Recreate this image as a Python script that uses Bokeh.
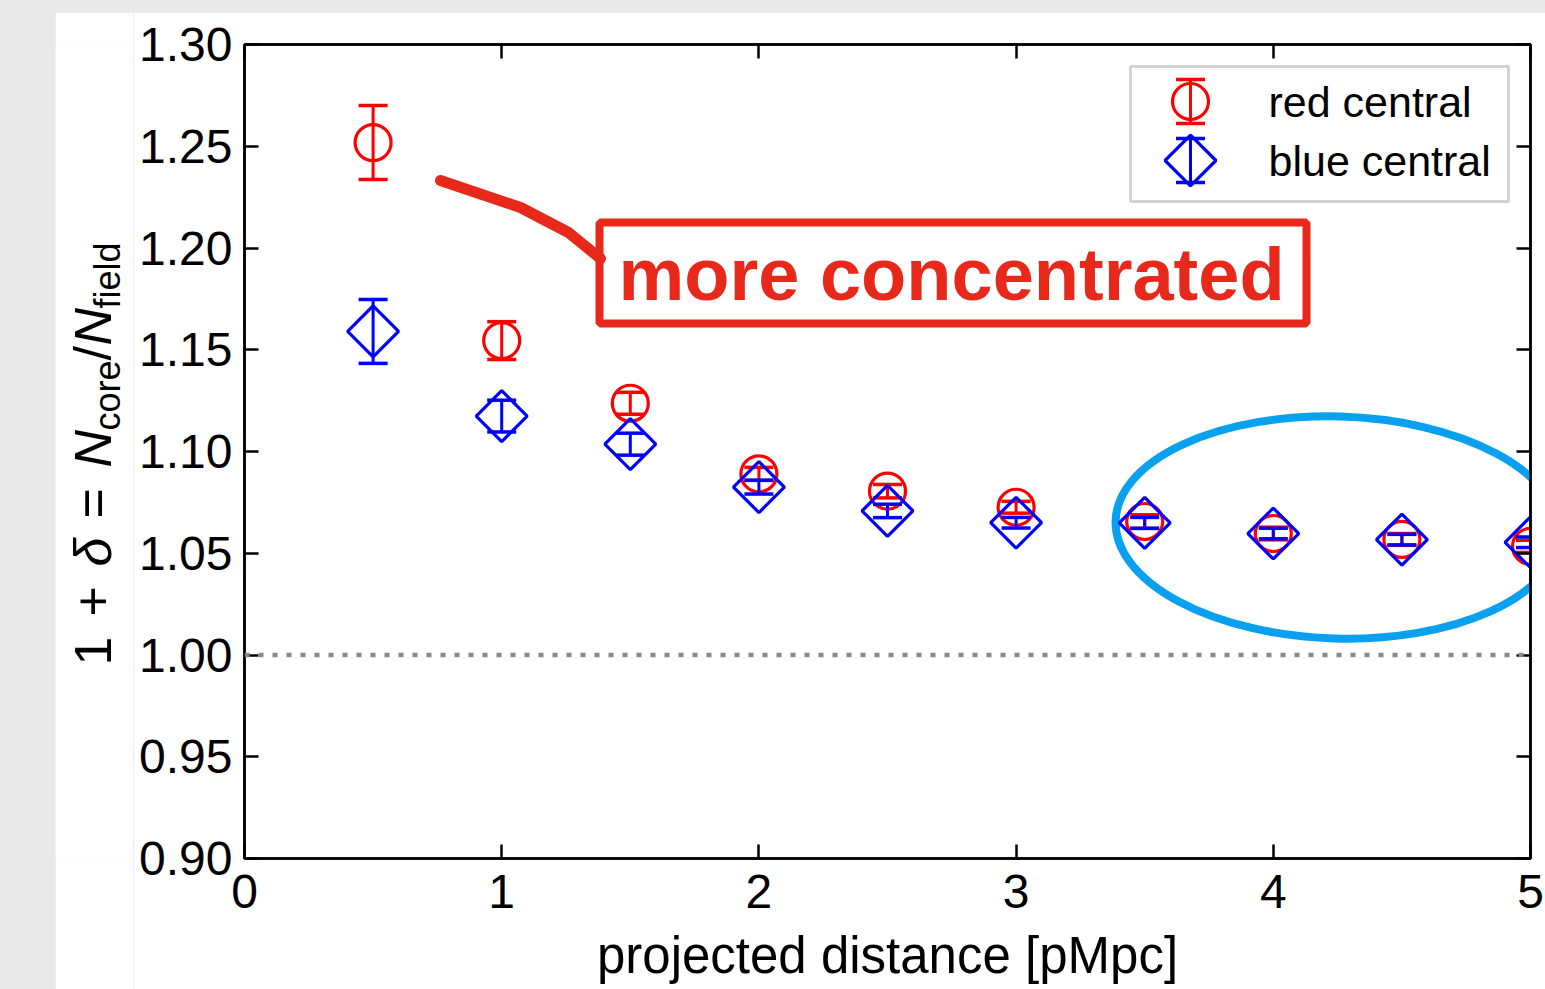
import numpy as np
from bokeh.plotting import figure
from bokeh.models import (FixedTicker, PrintfTickFormatter, LinearAxis, Span,
                          Label, BoxAnnotation, ColumnDataSource)
from bokeh.layouts import row
from bokeh.core.properties import value
from bokeh.embed import file_html
from bokeh.resources import INLINE

# ---------------- data ----------------
distance = [0.5, 1.0, 1.5, 2.0, 2.5, 3.0, 3.5, 4.0, 4.5, 5.0]
red_ratio = [1.2518, 1.1545, 1.1237, 1.0890, 1.0805, 1.0726, 1.0656, 1.0597, 1.0568, 1.0534]
red_err = [0.0182, 0.0093, 0.0054, 0.0032, 0.0033, 0.0029, 0.0033, 0.0031, 0.0029, 0.0030]
blue_ratio = [1.1590, 1.1174, 1.1036, 1.0825, 1.0708, 1.0650, 1.0649, 1.0597, 1.0567, 1.0554]
blue_err = [0.0157, 0.0078, 0.0054, 0.0034, 0.0033, 0.0026, 0.0027, 0.0026, 0.0026, 0.0026]
x_ticks = [0, 1, 2, 3, 4, 5]
y_ticks = [0.90, 0.95, 1.00, 1.05, 1.10, 1.15, 1.20, 1.25, 1.30]
series_labels = ["red central", "blue central"]
x_label = "projected distance [pMpc]"
note_text = "more concentrated"

RED = "#ff0000"
BLUE = "#0000ff"
NOTE_RED = "#e8281a"
SKY = "#0aa0f0"
FONT = "Liberation Sans"
PAGE_BG = "#e9e9e9"

# page geometry (pixels)
PAGE_W, PAGE_H = 1545, 989
WHITE_L, WHITE_T = 55, 12
LAB_W = 78                      # strip holding the y label
FL, FR, FT, FB = 244, 1530, 44, 858
X0, X1, Y0, Y1 = 0.0, 5.0, 0.90, 1.30


def px2x(px):
    return X0 + (px - FL) / (FR - FL) * (X1 - X0)


def px2y(py):
    return Y1 - (py - FT) / (FB - FT) * (Y1 - Y0)


# ---------------- main figure ----------------
main_left = WHITE_L + LAB_W
p = figure(width=PAGE_W - main_left, height=PAGE_H - WHITE_T, x_range=(X0, X1), y_range=(Y0, Y1),
           output_backend="svg", toolbar_location=None,
           min_border_left=FL - main_left, min_border_right=PAGE_W - FR,
           min_border_top=FT - WHITE_T, min_border_bottom=PAGE_H - FB)
p.margin = (WHITE_T, 0, 0, 0)
p.background_fill_color = "white"
p.border_fill_color = "white"
p.grid.visible = False
p.outline_line_color = "black"
p.outline_line_width = 2.5

p.xaxis.ticker = FixedTicker(ticks=x_ticks)
p.yaxis.ticker = FixedTicker(ticks=y_ticks)
p.yaxis.formatter = PrintfTickFormatter(format="%.2f")

for ax in (p.xaxis[0], p.yaxis[0]):
    ax.major_tick_in = 14
    ax.major_tick_out = 0
    ax.minor_tick_in = 0
    ax.minor_tick_out = 0
    ax.axis_line_width = 2.5
    ax.major_tick_line_width = 2.5
    ax.major_label_text_font = FONT
    ax.major_label_text_font_size = "48px"
    ax.major_label_text_color = "black"

p.xaxis.major_label_standoff = 16
p.yaxis.major_label_standoff = 12
p.xaxis.axis_label = x_label
p.xaxis.axis_label_text_font = FONT
p.xaxis.axis_label_text_font_size = "51px"
p.xaxis.axis_label_text_font_style = "normal"
p.xaxis.axis_label_text_color = "black"
p.xaxis.axis_label_standoff = 16

for loc, ticks in (("above", x_ticks), ("right", y_ticks)):
    ax = LinearAxis(ticker=FixedTicker(ticks=ticks), major_label_text_font_size="1px",
                    major_label_text_color=None,
                    major_tick_in=14, major_tick_out=0, minor_tick_in=0, minor_tick_out=0,
                    axis_line_width=2.5, major_tick_line_width=2.5, major_label_standoff=0)
    p.add_layout(ax, loc)

# reference line at 1
p.add_layout(Span(location=1.0, dimension="width", line_color="#888888",
                  line_width=4.5, line_dash="5 9"))

# blue hand-drawn ellipse (annotation)
p.ellipse(x=[px2x(1337)], y=[px2y(527)], width=444, height=222, width_units="screen",
          height_units="screen", angle=-0.03, fill_color=None, line_color=SKY, line_width=8)

# red note: pointer, box, text
ptr_px = [(440, 180), (520, 207), (568, 232), (600, 258)]
p.line([px2x(a) for a, b in ptr_px], [px2y(b) for a, b in ptr_px],
       line_color=NOTE_RED, line_width=11, line_cap="round", line_join="round")
p.add_layout(BoxAnnotation(left=px2x(599), right=px2x(1306), top=px2y(222), bottom=px2y(323),
                           fill_alpha=0, line_color=NOTE_RED, line_alpha=1, line_width=8))
p.add_layout(Label(x=px2x(951), y=px2y(274), text=note_text, text_align="center",
                   text_baseline="middle", text_font=FONT, text_font_size="74px",
                   text_font_style="bold", text_color=NOTE_RED))

# ---------------- data marks ----------------
src_r = ColumnDataSource(dict(x=distance, y=red_ratio,
                              lo=[v - e for v, e in zip(red_ratio, red_err)],
                              hi=[v + e for v, e in zip(red_ratio, red_err)]))
src_b = ColumnDataSource(dict(x=distance, y=blue_ratio,
                              lo=[v - e for v, e in zip(blue_ratio, blue_err)],
                              hi=[v + e for v, e in zip(blue_ratio, blue_err)]))


def errorbars(src, color):
    p.segment(x0="x", y0="lo", x1="x", y1="hi", source=src, line_color=color, line_width=3)
    p.scatter(x="x", y="lo", source=src, marker="dash", size=29, line_color=color, line_width=3.5)
    p.scatter(x="x", y="hi", source=src, marker="dash", size=29, line_color=color, line_width=3.5)


errorbars(src_r, RED)
p.scatter(x="x", y="y", source=src_r, marker="circle", size=36,
          fill_color=None, line_color=RED, line_width=3.2)
errorbars(src_b, BLUE)
p.scatter(x="x", y="y", source=src_b, marker="square", angle=np.pi / 4, size=36,
          fill_color=None, line_color=BLUE, line_width=3.2)

# ---------------- legend (drawn by hand to show error-bar symbols) ----------------
p.add_layout(BoxAnnotation(left=px2x(1130), right=px2x(1508), top=px2y(66), bottom=px2y(201),
                           fill_alpha=0, line_color="#d2d2d2", line_alpha=1, line_width=3))
leg_x = px2x(1190)
leg_rows = [(px2y(101), RED, "circle", 0, series_labels[0]),
            (px2y(160), BLUE, "square", np.pi / 4, series_labels[1])]
leg_half = 22 / (FB - FT) * (Y1 - Y0)
for ly, col, mk, ang, lab in leg_rows:
    p.segment(x0=[leg_x], y0=[ly - leg_half], x1=[leg_x], y1=[ly + leg_half],
              line_color=col, line_width=3)
    p.scatter(x=[leg_x, leg_x], y=[ly - leg_half, ly + leg_half], marker="dash", size=29,
              line_color=col, line_width=3.5)
    p.scatter(x=[leg_x], y=[ly], marker=mk, angle=ang, size=36, fill_color=None,
              line_color=col, line_width=3.2)
    p.add_layout(Label(x=px2x(1268), y=ly, text=lab, text_align="left", text_baseline="middle",
                       text_font=FONT, text_font_size="43px", text_color="black"))

# ---------------- y-axis label strip ----------------
# data coordinates of this strip are page pixels (y measured upward from page bottom);
# its frame is given the same vertical extent as the main frame.
lf = figure(width=LAB_W, height=PAGE_H - WHITE_T, x_range=(WHITE_L, WHITE_L + LAB_W),
            y_range=(PAGE_H - FB, PAGE_H - FT), output_backend="svg", toolbar_location=None,
            x_axis_location=None, y_axis_location=None,
            min_border_left=0, min_border_right=0,
            min_border_top=FT - WHITE_T, min_border_bottom=PAGE_H - FB)
lf.margin = (WHITE_T, 0, 0, WHITE_L)
lf.outline_line_color = None
lf.grid.visible = False
lf.background_fill_color = "white"
lf.border_fill_color = "white"

MAIN_X, SUB_X = 92, 107
pieces = [  # (text, start page-y, style, size, subscript)
    ("1", 665, "normal", 52, False),
    ("+", 616, "normal", 52, False),
    ("δ", 566, "italic", 52, False),
    ("=", 518, "normal", 52, False),
    ("N", 467, "italic", 52, False),
    ("core", 430, "normal", 36, True),
    ("/", 360, "normal", 52, False),
    ("N", 345, "italic", 52, False),
    ("field", 308, "normal", 36, True),
]
for txt, ypx, style, size, sub in pieces:
    lf.text(x=[SUB_X if sub else MAIN_X], y=[PAGE_H - ypx], text=[txt], angle=np.pi / 2,
            text_align="left", text_baseline="middle", text_font=value(FONT),
            text_font_size=value(f"{size}px"), text_font_style=value(style), text_color="black")

layout = row(lf, p, styles={"background-color": PAGE_BG})
open("out.html", "w").write(file_html(layout, INLINE))
